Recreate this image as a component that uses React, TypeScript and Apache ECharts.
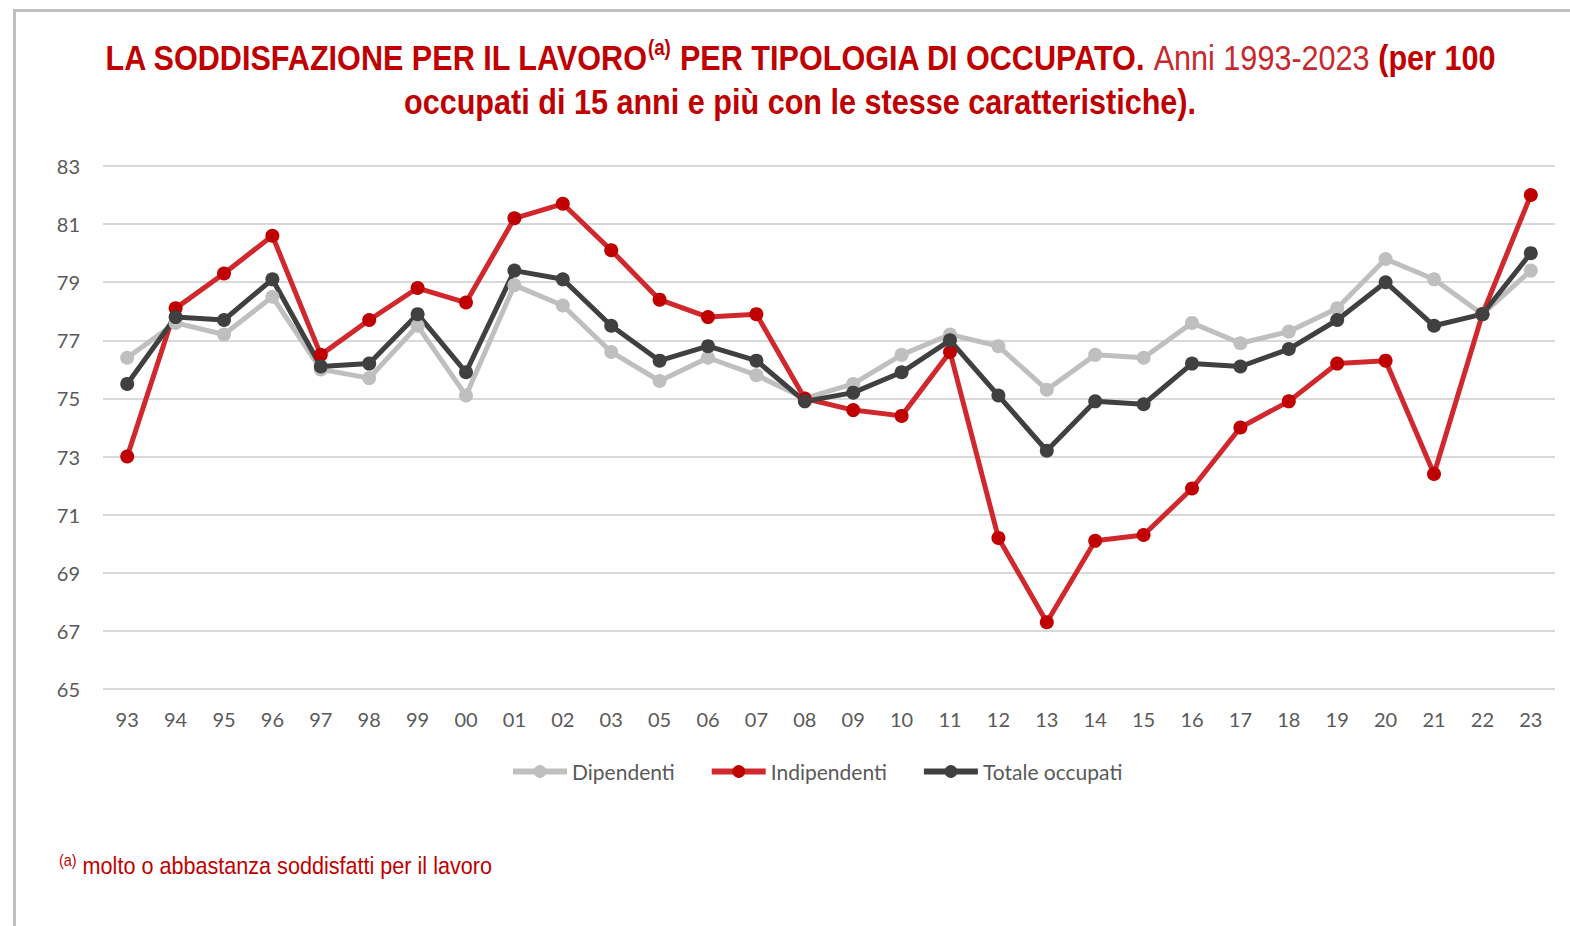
import React, { useEffect, useRef } from "react";
import * as echarts from "echarts";

const categories = ["93","94","95","96","97","98","99","00","01","02","03","05","06","07","08","09","10","11","12","13","14","15","16","17","18","19","20","21","22","23"];
const dipendenti = [76.4,77.6,77.2,78.5,76.0,75.7,77.5,75.1,78.9,78.2,76.6,75.6,76.4,75.8,75.0,75.5,76.5,77.2,76.8,75.3,76.5,76.4,77.6,76.9,77.3,78.1,79.8,79.1,77.9,79.4];
const indipendenti = [73.0,78.1,79.3,80.6,76.5,77.7,78.8,78.3,81.2,81.7,80.1,78.4,77.8,77.9,75.0,74.6,74.4,76.6,70.2,67.3,70.1,70.3,71.9,74.0,74.9,76.2,76.3,72.4,77.9,82.0];
const totale = [75.5,77.8,77.7,79.1,76.1,76.2,77.9,75.9,79.4,79.1,77.5,76.3,76.8,76.3,74.9,75.2,75.9,77.0,75.1,73.2,74.9,74.8,76.2,76.1,76.7,77.7,79.0,77.5,77.9,80.0];
const seriesNames = ["Dipendenti", "Indipendenti", "Totale occupati"];

const TITLE_FONT = "'Liberation Sans', Arial, sans-serif";
const LABEL_FONT = "Lato, 'Open Sans', sans-serif";

export default function App() {
  const ref = useRef<HTMLDivElement>(null);
  useEffect(() => {
    if (!ref.current) return;
    const chart = echarts.init(ref.current, undefined, { renderer: "svg" });
    const mk = (name: string, data: number[], line: string, marker: string) => ({
      name,
      type: "line",
      data,
      symbol: "circle",
      symbolSize: 14,
      lineStyle: { color: line, width: 5 },
      itemStyle: { color: marker },
      emphasis: { disabled: true },
    });
    chart.setOption({
      animation: false,
      backgroundColor: "#ffffff",
      graphic: [
        { type: "rect", left: 13, top: 9, shape: { width: 1557, height: 3 }, style: { fill: "#bfbfbf" } },
        { type: "rect", left: 13, top: 9, shape: { width: 3, height: 917 }, style: { fill: "#bfbfbf" } },
        {
          type: "text",
          x: 800,
          y: 58,
          scaleX: 0.85,
          style: {
            text: "LA SODDISFAZIONE PER IL LAVORO{sup|(a)} PER TIPOLOGIA DI OCCUPATO. {light|Anni 1993-2023} (per 100",
            textAlign: "center",
            textVerticalAlign: "middle",
            fontFamily: TITLE_FONT,
            fontWeight: "bold",
            fontSize: 36,
            fill: "#c00000",
            rich: {
              sup: { fontFamily: TITLE_FONT, fontWeight: "bold", fontSize: 22, fill: "#c00000", padding: [0, 0, 22, 0] },
              light: { fontFamily: TITLE_FONT, fontWeight: "normal", fontSize: 36, fill: "#c8282e" },
            },
          },
        },
        {
          type: "text",
          x: 800,
          y: 102,
          scaleX: 0.85,
          style: {
            text: "occupati di 15 anni e più con le stesse caratteristiche).",
            textAlign: "center",
            textVerticalAlign: "middle",
            fontFamily: TITLE_FONT,
            fontWeight: "bold",
            fontSize: 36,
            fill: "#c00000",
          },
        },
        {
          type: "text",
          x: 59,
          y: 866,
          scaleX: 0.9,
          style: {
            text: "{sup|(a)} molto o abbastanza soddisfatti per il lavoro",
            textAlign: "left",
            textVerticalAlign: "middle",
            fontFamily: TITLE_FONT,
            fontSize: 24,
            fill: "#c00000",
            rich: {
              sup: { fontFamily: TITLE_FONT, fontSize: 16, fill: "#c00000", padding: [0, 0, 12, 0] },
            },
          },
        },
      ],
      legend: {
        data: seriesNames,
        left: 505,
        top: 756,
        itemWidth: 54,
        itemHeight: 16,
        itemGap: 34,
        lineStyle: { width: 6 },
        textStyle: { fontFamily: LABEL_FONT, fontSize: 21, color: "#595959" },
      },
      grid: { left: 103, right: 15, top: 166, bottom: 237 },
      xAxis: {
        type: "category",
        data: categories,
        boundaryGap: true,
        axisLine: { show: false },
        axisTick: { show: false },
        axisLabel: { fontFamily: LABEL_FONT, fontSize: 20, color: "#595959", margin: 20 },
      },
      yAxis: {
        type: "value",
        min: 65,
        max: 83,
        interval: 2,
        axisLine: { show: false },
        axisTick: { show: false },
        axisLabel: { fontFamily: LABEL_FONT, fontSize: 20, color: "#595959", margin: 23 },
        splitLine: { lineStyle: { color: "#d9d9d9", width: 2 } },
      },
      series: [
        mk("Dipendenti", dipendenti, "#bfbfbf", "#bfbfbf"),
        mk("Indipendenti", indipendenti, "#d0282d", "#c00000"),
        mk("Totale occupati", totale, "#404040", "#404040"),
      ],
    });
    return () => chart.dispose();
  }, []);
  return <div ref={ref} style={{ position: "fixed", left: 0, top: 0, width: 1570, height: 926 }} />;
}
